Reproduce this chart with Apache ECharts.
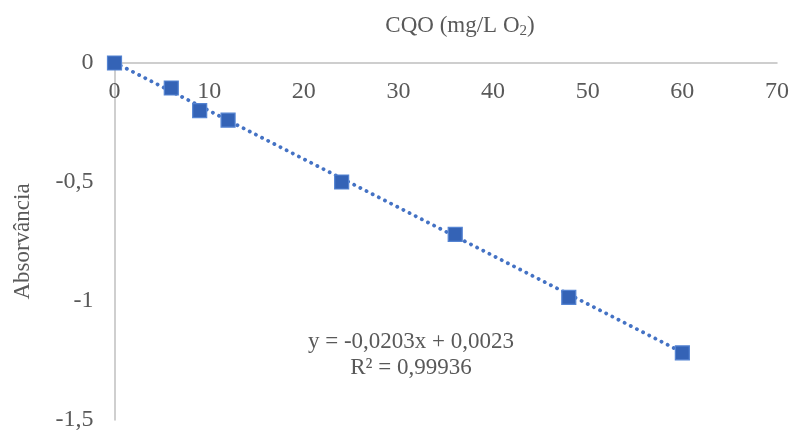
<!DOCTYPE html>
<html>
<head>
<meta charset="utf-8">
<script src="https://cdn.jsdelivr.net/npm/echarts@6/dist/echarts.min.js"></script>
<style>
html, body { margin: 0; padding: 0; background: #fff; }
#container { width: 792px; height: 432px; }
</style>
</head>
<body>
<div id="container"></div>
<script>
var cqo = [0, 6, 9, 12, 24, 36, 48, 60];
var absorvancia = [0, -0.105, -0.2, -0.24, -0.5, -0.72, -0.985, -1.218];
var slope = -0.0203;
var intercept = 0.0023;
var trendX = [0, 60];

var dom = document.getElementById("container");
var myChart = echarts.init(dom);

var fmt = function (v) { return String(v).replace('.', ','); };
var points = cqo.map(function (x, i) { return [x, absorvancia[i]]; });
var trend = trendX.map(function (x) { return [x, slope * x + intercept]; });

var font = 'Liberation Serif';
var textColor = '#595959';
var axisColor = '#bfbfbf';

var option = {
    animation: false,
    grid: { left: 114.5, right: 15, top: 63, bottom: 9 },
    title: {
        text: '{a|CQO (mg/L O}{s|2}{a|)}',
        left: 455,
        top: 7,
        textAlign: 'center',
        textStyle: {
            fontWeight: 'normal',
            rich: {
                a: { fontFamily: font, fontSize: 23, fontWeight: 'normal', color: textColor },
                s: { fontFamily: font, fontSize: 15, fontWeight: 'normal', color: textColor, verticalAlign: 'bottom', padding: [12, 0, 0, 0] }
            }
        }
    },
    xAxis: {
        type: 'value',
        position: 'top',
        min: 0, max: 70, interval: 10,
        axisLine: { show: true, lineStyle: { color: axisColor, width: 1.5 } },
        axisTick: { show: false },
        splitLine: { show: false },
        axisLabel: { inside: true, margin: 17, fontFamily: font, fontSize: 24, color: textColor }
    },
    yAxis: {
        type: 'value',
        min: -1.5, max: 0, interval: 0.5,
        name: 'Absorvância',
        nameLocation: 'middle',
        nameGap: 80,
        nameTextStyle: { fontFamily: font, fontSize: 23, color: textColor },
        axisLine: { show: true, onZero: false, lineStyle: { color: axisColor, width: 1.5 } },
        axisTick: { show: false },
        splitLine: { show: false },
        axisLabel: { margin: 21, fontFamily: font, fontSize: 24, color: textColor, formatter: fmt }
    },
    graphic: [{
        type: 'text',
        x: 411, y: 329,
        style: {
            text: 'y = -0,0203x + 0,0023\nR² = 0,99936',
            align: 'center',
            font: '23px "Liberation Serif"',
            fill: textColor,
            lineHeight: 26
        }
    }],
    series: [{
        name: 'Tendência',
        type: 'line',
        data: trend,
        symbol: 'none',
        z: 1,
        lineStyle: { color: '#4472c4', width: 3.8, type: [0.1, 6.8], cap: 'round' }
    }, {
        name: 'Absorvância',
        type: 'scatter',
        data: points,
        symbol: 'rect',
        symbolSize: 14,
        z: 2,
        itemStyle: { color: '#3463b6', borderColor: '#5584d2', borderWidth: 1.2, opacity: 1 }
    }]
};

myChart.setOption(option, true);
</script>
</body>
</html>
